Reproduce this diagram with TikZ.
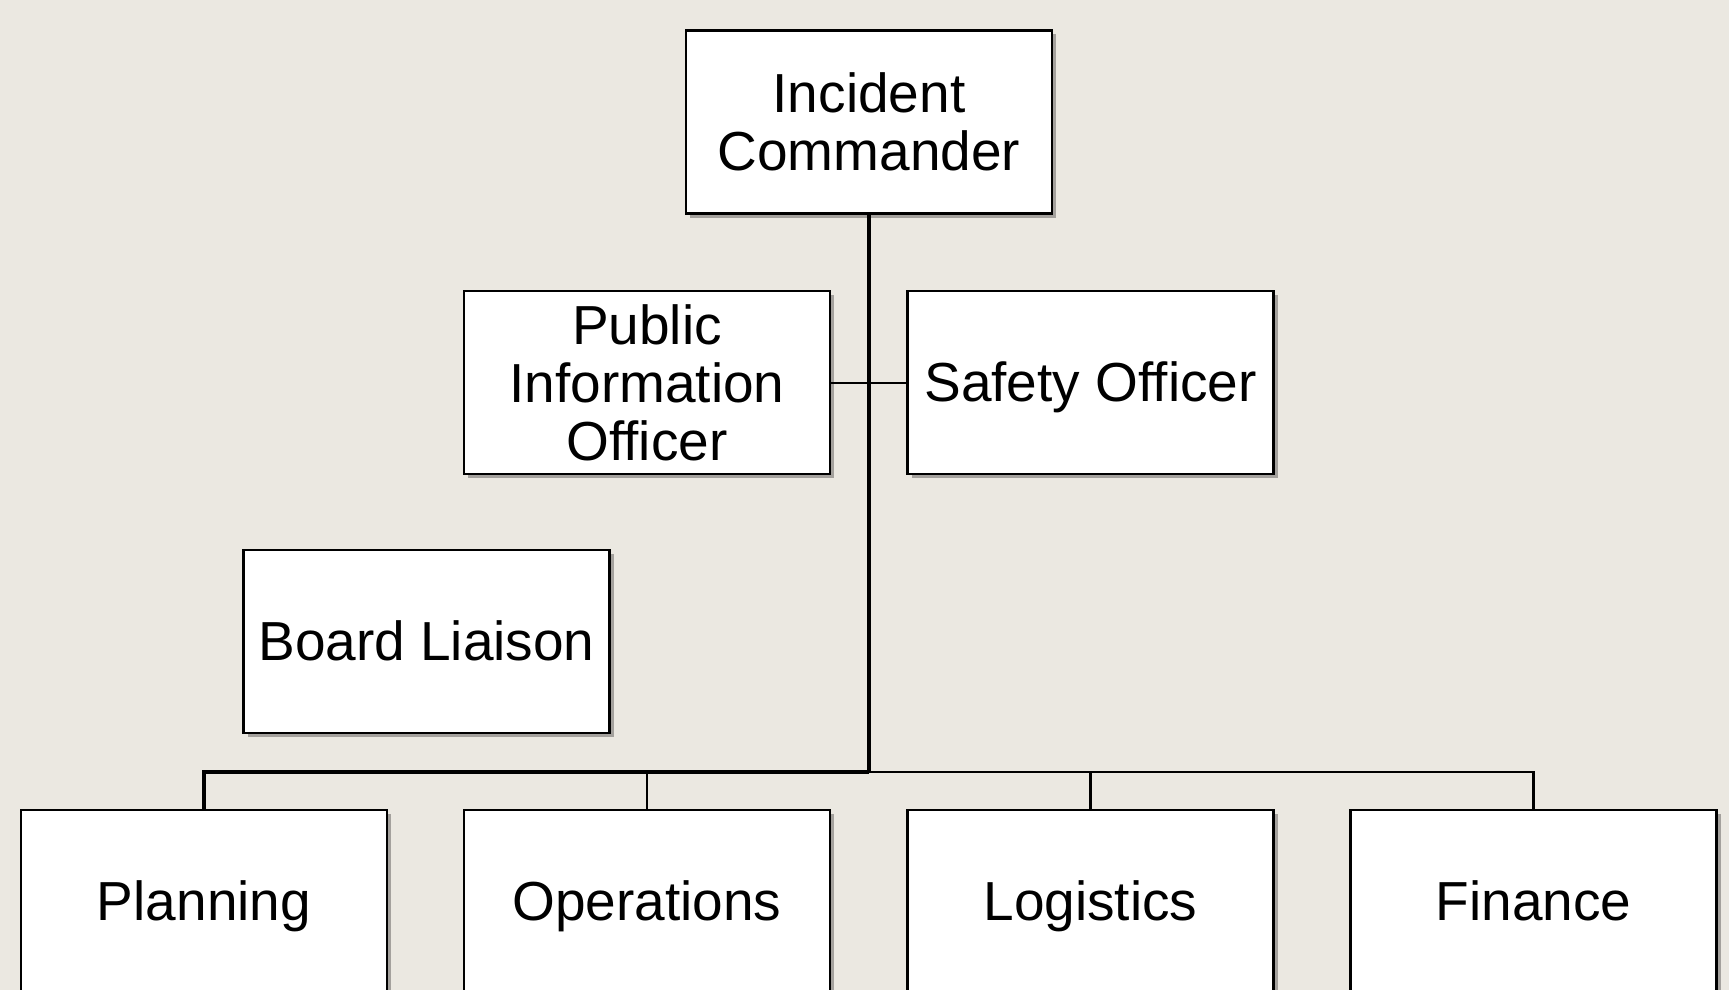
\documentclass[tikz,border=0pt]{standalone}
\usepackage{fontspec}
\setmainfont{Liberation Sans}
\usetikzlibrary{shadows,backgrounds}
\definecolor{bgc}{RGB}{235,232,225}
\tikzset{
  box/.style={draw=black, line width=2.6pt, fill=white, minimum width=366pt, minimum height=183pt,
    inner sep=0pt, align=center, font=\fontsize{55}{58}\selectfont,
    drop shadow={shadow xshift=4pt, shadow yshift=-4pt, opacity=0.3, fill=black}},
  oneline/.style={text height=39.4pt, text depth=1pt},
  link/.style={draw=black, line width=2.6pt},
  thick link/.style={draw=black, line width=3.6pt},
  thin link/.style={draw=black, line width=2pt},
  lshadow/.style={draw=black, opacity=0.15, line width=7pt},
}
\begin{document}
\begin{tikzpicture}[x=1pt,y=-1pt]
\fill[bgc] (0,0) rectangle (1729,990);
\useasboundingbox (0,0) rectangle (1729,990);
\begin{scope}
\clip (0,0) rectangle (1729,990);
\node[box] (ic) at (869,122) {Incident\\Commander};
\node[box] (pio) at (647,382.5) {Public\\Information\\Officer};
\node[box, oneline] (so) at (1090.5,382.5) {Safety Officer};
\node[box, oneline] (bl) at (426.5,641.5) {Board Liaison};
\node[box, oneline] (pl) at (204,901.5) {Planning};
\node[box, oneline] (op) at (647,901.5) {Operations};
\node[box, oneline] (lo) at (1090.5,901.5) {Logistics};
\node[box, oneline] (fi) at (1533.5,901.5) {Finance};
\coordinate (bus) at (869,772);
\begin{scope}[on background layer]
\draw[lshadow, transform canvas={xshift=4pt,yshift=-4pt}] (ic.south) -- (bus) -| (fi.north);
\draw[lshadow, transform canvas={xshift=4pt,yshift=-4pt}] (bus) -| (pl.north);
\draw[lshadow, transform canvas={xshift=4pt,yshift=-4pt}] (pio.east) -- (so.west);
\end{scope}
\draw[thin link] (pio.east) -- (so.west);
\draw[thick link] (ic.south) -- (bus);
\draw[thick link] (bus) -| (pl.north);
\draw[link] (bus) -| (fi.north);
\draw[link] (op.north) -- (op.north |- bus);
\draw[link] (lo.north) -- (lo.north |- bus);
\end{scope}
\end{tikzpicture}
\end{document}
